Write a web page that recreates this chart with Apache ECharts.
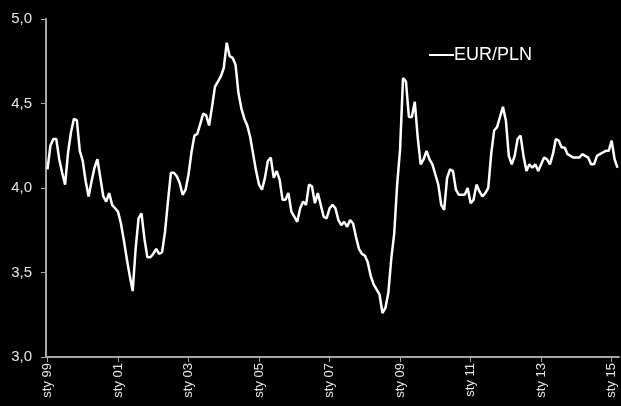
<!DOCTYPE html>
<html>
<head>
<meta charset="utf-8">
<script src="https://cdn.jsdelivr.net/npm/echarts@6/dist/echarts.min.js"></script>
<style>
html,body{margin:0;padding:0;background:#000;}
#chart{width:621px;height:406px;}
</style>
</head>
<body>
<div id="chart"></div>
<script>
const monthNames = ['sty','lut','mar','kwi','maj','cze','lip','sie','wrz','paź','lis','gru'];
const years = ['99','00','01','02','03','04','05','06','07','08','09','10','11','12','13','14','15'];
const seriesName = 'EUR/PLN';
const eurpln = [
  4.11, 4.25, 4.29, 4.29, 4.17, 4.09, 4.02, 4.21, 4.33, 4.41, 4.40, 4.22,
  4.16, 4.04, 3.95, 4.04, 4.12, 4.17, 4.06, 3.95, 3.92, 3.97, 3.90, 3.88,
  3.86, 3.79, 3.69, 3.58, 3.48, 3.39, 3.64, 3.82, 3.85, 3.70, 3.59, 3.59,
  3.61, 3.64, 3.61, 3.62, 3.74, 3.92, 4.09, 4.09, 4.07, 4.03, 3.96, 3.99,
  4.08, 4.21, 4.31, 4.32, 4.38, 4.44, 4.43, 4.37, 4.48, 4.60, 4.63, 4.66,
  4.71, 4.86, 4.78, 4.77, 4.73, 4.56, 4.47, 4.41, 4.37, 4.30, 4.20, 4.10,
  4.02, 3.99, 4.06, 4.16, 4.18, 4.06, 4.10, 4.05, 3.93, 3.93, 3.97, 3.86,
  3.83, 3.80, 3.88, 3.92, 3.90, 4.02, 4.01, 3.91, 3.97, 3.90, 3.83, 3.82,
  3.88, 3.90, 3.88, 3.81, 3.78, 3.80, 3.77, 3.81, 3.79, 3.71, 3.64, 3.61,
  3.60, 3.56, 3.48, 3.43, 3.40, 3.37, 3.26, 3.29, 3.38, 3.58, 3.73, 4.02,
  4.23, 4.65, 4.63, 4.42, 4.42, 4.51, 4.30, 4.14, 4.17, 4.22, 4.17, 4.14,
  4.08, 4.02, 3.90, 3.87, 4.06, 4.11, 4.10, 3.99, 3.96, 3.96, 3.96, 4.00,
  3.91, 3.93, 4.02, 3.98, 3.95, 3.97, 4.00, 4.20, 4.34, 4.36, 4.42, 4.48,
  4.40, 4.19, 4.14, 4.19, 4.29, 4.31, 4.19, 4.10, 4.14, 4.12, 4.14, 4.10,
  4.14, 4.18, 4.17, 4.14, 4.20, 4.29, 4.28, 4.24, 4.24, 4.20, 4.19, 4.18,
  4.18, 4.18, 4.20, 4.19, 4.18, 4.14, 4.14, 4.19, 4.20, 4.21, 4.22, 4.22,
  4.28, 4.17, 4.12
];
const categories = [];
for (let k = 0; k < eurpln.length; k++) {
  categories.push(monthNames[k % 12] + ' ' + years[Math.floor(k / 12)]);
}
const yMin = 3.0, yMax = 5.0, yStep = 0.5;

const chart = echarts.init(document.getElementById('chart'), null, {renderer: 'canvas'});
chart.setOption({
  backgroundColor: '#000',
  animation: false,
  grid: {left: 46, right: 2, top: 19, bottom: 49, containLabel: false},
  legend: {
    data: [seriesName],
    left: 424, top: 41,
    itemWidth: 25, itemHeight: 2,
    icon: 'rect',
    textStyle: {color: '#fff', fontSize: 18, fontFamily: 'Liberation Sans, Arial, sans-serif', padding: [0, 0, 0, -5]}
  },
  xAxis: {
    type: 'category',
    data: categories,
    boundaryGap: true,
    axisLine: {show: true, lineStyle: {color: '#a6a6a6', width: 2}},
    axisTick: {show: true, interval: 23, alignWithLabel: true, length: 5, lineStyle: {color: '#a6a6a6', width: 1}},
    axisLabel: {
      interval: 23, rotate: 90, color: '#e6e6e6', fontSize: 13, margin: 6,
      fontFamily: 'Liberation Sans, Arial, sans-serif'
    },
    splitLine: {show: false}
  },
  yAxis: {
    type: 'value',
    min: yMin, max: yMax, interval: yStep,
    axisLine: {show: true, lineStyle: {color: '#a6a6a6', width: 2}},
    axisTick: {show: true, length: 5, lineStyle: {color: '#a6a6a6', width: 1}},
    axisLabel: {
      color: '#e6e6e6', fontSize: 15, margin: 14,
      fontFamily: 'Liberation Sans, Arial, sans-serif',
      formatter: v => v.toFixed(1).replace('.', ',')
    },
    splitLine: {show: false}
  },
  series: [{
    name: seriesName,
    type: 'line',
    data: eurpln,
    showSymbol: false,
    smooth: false,
    lineStyle: {color: '#fff', width: 2.5},
    itemStyle: {color: '#fff'}
  }]
});
</script>
</body>
</html>
